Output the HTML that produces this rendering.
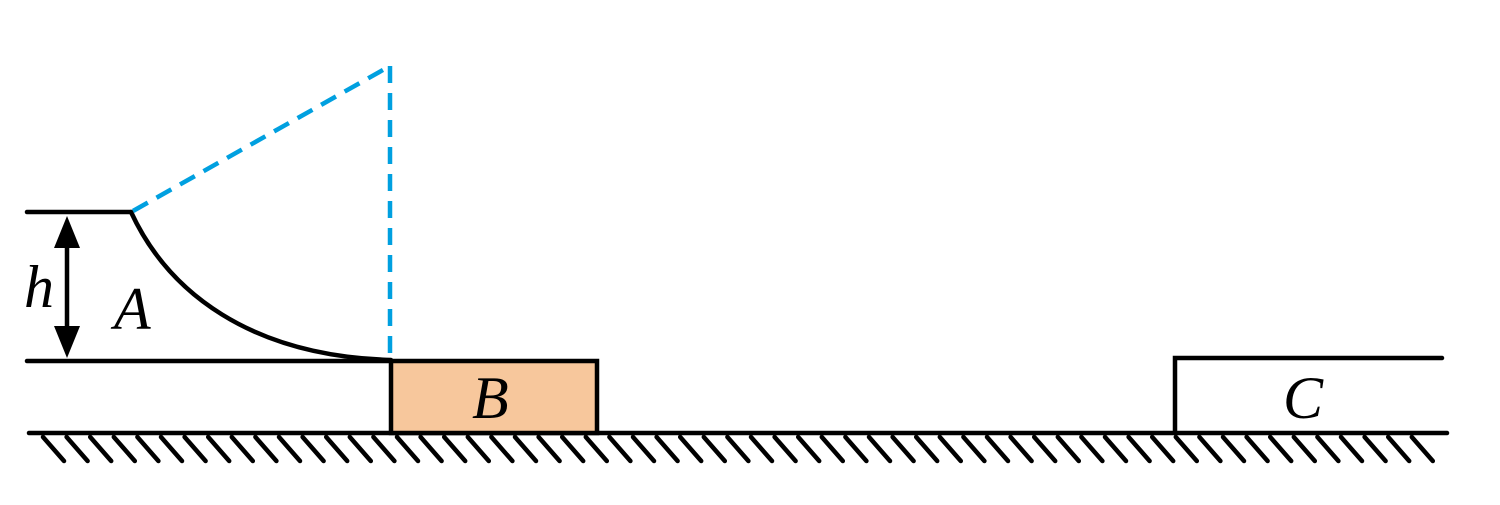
<!DOCTYPE html>
<html><head><meta charset="utf-8"><style>body{margin:0;background:#fff}svg{display:block}</style></head>
<body>
<svg width="1500" height="505" viewBox="0 0 1500 505">
<g stroke="#000" stroke-width="4.5" fill="none" stroke-linecap="round">
<line x1="27" y1="212" x2="131" y2="212"/>
<line x1="27" y1="361" x2="391" y2="361"/>
<path d="M131,212 C168,292 250,356 391,360"/>
<line x1="29" y1="433" x2="1447" y2="433"/>
<polyline points="1175,433 1175,358 1442,358"/>
<line x1="67" y1="238" x2="67" y2="335"/>
</g>
<polygon points="67,216 54,248 80,248" fill="#000"/>
<polygon points="67,358 54,326 80,326" fill="#000"/>
<g id="hatch" stroke="#000" stroke-width="4.5" stroke-linecap="round"></g>
<rect x="391" y="361" width="206" height="72" fill="#f7c79c" stroke="#000" stroke-width="4.5"/>
<g stroke="#00a0e0" stroke-width="4.5" stroke-dasharray="17,10" fill="none">
<line x1="133" y1="211" x2="390" y2="66"/>
<line x1="390" y1="66" x2="390" y2="360"/>
</g>
<g font-family="'Liberation Serif', serif" font-style="italic" font-size="60" fill="#000">
<text x="24" y="307">h</text>
<text x="114" y="329">A</text>
<text x="472" y="418">B</text>
<text x="1283" y="418">C</text>
</g>
</svg>
<script>
const g=document.getElementById('hatch');
for(let x=43;x<1430;x+=23.6){
const l=document.createElementNS('http://www.w3.org/2000/svg','line');


l.setAttribute('x1',x);l.setAttribute('y1',437);l.setAttribute('x2',x+21);l.setAttribute('y2',461);
g.appendChild(l);}
</script>
</body></html>
